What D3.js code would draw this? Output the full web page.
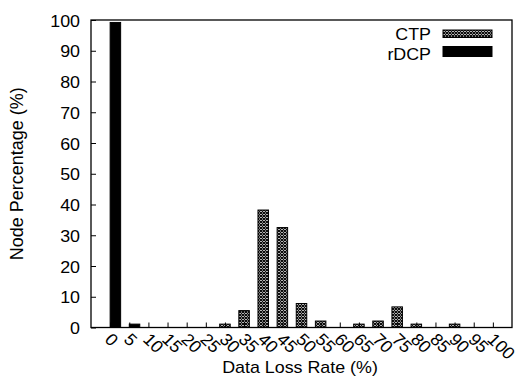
<!DOCTYPE html>
<html>
<head>
<meta charset="utf-8">
<script src="https://cdn.jsdelivr.net/npm/d3@7"></script>
<style>
  html, body { margin: 0; padding: 0; background: #fff; }
  svg { display: block; }
  text { font-family: "Liberation Sans", Arial, Helvetica, sans-serif; fill: #000; }
</style>
</head>
<body>
<svg id="chart" width="518" height="378"></svg>
<script>
// Data loss rate buckets (%)
const categories = ["0","5","10","15","20","25","30","35","40","45","50","55","60","65","70","75","80","85","90","95","100"];
// Share of nodes in each bucket (%)
const ctpValues  = [0, 0, 0, 0, 0, 0, 1.1, 5.5, 38.2, 32.5, 7.8, 2.1, 0, 1.1, 2.1, 6.7, 1.1, 0, 1.1, 0, 0];
const rdcpValues = [99.2, 1.1, 0, 0, 0, 0, 0, 0, 0, 0, 0, 0, 0, 0, 0, 0, 0, 0, 0, 0, 0];
const yTicks = [0, 10, 20, 30, 40, 50, 60, 70, 80, 90, 100];
const seriesNames = ["CTP", "rDCP"];

const svg = d3.select("#chart");
const plot = { left: 91, top: 20, right: 512, bottom: 327.5 };
const fs = 17, sx = 1.05;   // label font size and horizontal glyph stretch

const x = d3.scalePoint().domain(categories).range([plot.left, plot.right]).padding(1);
const y = d3.scaleLinear().domain([0, 100]).range([plot.bottom, plot.top]);
const barW = 10.5;

// crosshatch fill for CTP
const defs = svg.append("defs");
const pat = defs.append("pattern")
  .attr("id", "hatch").attr("patternUnits", "userSpaceOnUse")
  .attr("width", 3).attr("height", 3);
pat.append("rect").attr("width", 3).attr("height", 3).attr("fill", "#fff");
pat.append("path").attr("d", "M0,0 L3,3 M3,0 L0,3").attr("stroke", "#000").attr("stroke-width", 1.1);

// CTP bars, centred on the category
const ctpData = categories.map((c, i) => ({ c, v: ctpValues[i] })).filter(d => d.v > 0);
svg.append("g").selectAll("rect").data(ctpData).join("rect")
  .attr("x", d => x(d.c) - barW / 2)
  .attr("y", d => y(d.v))
  .attr("width", barW)
  .attr("height", d => y(0) - y(d.v))
  .attr("fill", "url(#hatch)")
  .attr("stroke", "#000").attr("stroke-width", 1);

// rDCP bars, drawn just right of the category centre
const rdcpData = categories.map((c, i) => ({ c, v: rdcpValues[i] })).filter(d => d.v > 0);
svg.append("g").selectAll("rect").data(rdcpData).join("rect")
  .attr("x", d => x(d.c))
  .attr("y", d => y(d.v))
  .attr("width", barW)
  .attr("height", d => y(0) - y(d.v))
  .attr("fill", "#000")
  .attr("stroke", "#000").attr("stroke-width", 1);

// y axis: inward ticks, labels on the left
const yAxis = svg.append("g").attr("transform", `translate(${plot.left},0)`)
  .call(d3.axisLeft(y).tickValues(yTicks).tickSize(-5).tickPadding(11));
yAxis.select(".domain").remove();
yAxis.selectAll("line").attr("stroke", "#000");
yAxis.selectAll("text")
  .attr("font-size", fs).attr("x", null).attr("dy", "0.36em")
  .attr("transform", `translate(-11,0) scale(${sx},1)`);

// x axis: inward ticks, labels rotated
const xAxis = svg.append("g").attr("transform", `translate(0,${plot.bottom})`)
  .call(d3.axisBottom(x).tickSize(-5).tickPadding(0));
xAxis.select(".domain").remove();
xAxis.selectAll("line").attr("stroke", "#000");
xAxis.selectAll("text")
  .attr("font-size", fs).attr("y", null).attr("dy", null)
  .attr("text-anchor", "start")
  .attr("transform", `translate(-7,13) scale(${sx},1) rotate(45)`);

// frame
svg.append("rect")
  .attr("x", plot.left).attr("y", plot.top)
  .attr("width", plot.right - plot.left).attr("height", plot.bottom - plot.top)
  .attr("fill", "none").attr("stroke", "#000").attr("stroke-width", 1.3);

// axis titles
svg.append("text")
  .attr("transform", `translate(300,373) scale(${sx},1)`)
  .attr("text-anchor", "middle").attr("font-size", fs)
  .text("Data Loss Rate (%)");
svg.append("text")
  .attr("transform", `translate(23,${(plot.top + plot.bottom) / 2}) rotate(-90)`)
  .attr("text-anchor", "middle").attr("font-size", 18)
  .text("Node Percentage (%)");

// legend
const legend = svg.append("g");
const legendRows = [
  { name: seriesNames[0], fill: "url(#hatch)", ty: 39.5, ry: 30, rh: 7.5 },
  { name: seriesNames[1], fill: "#000", ty: 59.5, ry: 46.5, rh: 10 }
];
legendRows.forEach(r => {
  legend.append("text")
    .attr("transform", `translate(431,${r.ty}) scale(${sx},1)`)
    .attr("text-anchor", "end").attr("font-size", fs)
    .text(r.name);
  legend.append("rect")
    .attr("x", 443).attr("y", r.ry).attr("width", 49).attr("height", r.rh)
    .attr("fill", r.fill).attr("stroke", "#000").attr("stroke-width", 1);
});
</script>
</body>
</html>
